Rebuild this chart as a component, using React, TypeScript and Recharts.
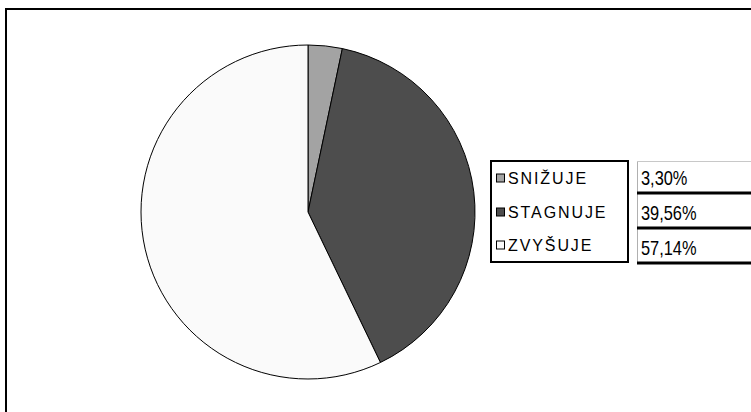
import React from "react";
import { PieChart, Pie, Cell, Customized } from "recharts";

const categories = ["SNIŽUJE", "STAGNUJE", "ZVYŠUJE"];
const values = [3.3, 39.56, 57.14];
const valueLabels = ["3,30%", "39,56%", "57,14%"];
const colors = ["#a3a3a3", "#4d4d4d", "#fafafa"];

const data = categories.map((name, i) => ({ name, value: values[i] }));

const LegendTable = () => {
  const rowCenters = [178, 212, 245];
  const rowBottoms = [193, 228, 263];
  return (
    <g>
      <rect x={491} y={161} width={137} height={101} fill="#fff" stroke="#000" strokeWidth={2} />
      {categories.map((c, i) => (
        <g key={c}>
          <rect x={496.5} y={rowCenters[i] - 4} width={8} height={8} fill={colors[i]} stroke="#000" strokeWidth={1} />
          <text
            x={508}
            y={rowCenters[i] + 6}
            fontFamily="Liberation Sans, Arial, sans-serif"
            fontSize={16}
            letterSpacing={1.9}
            fill="#000"
          >
            {c}
          </text>
        </g>
      ))}
      <line x1={637.5} y1={161} x2={637.5} y2={264} stroke="#b0b0b0" strokeWidth={1} />
      <line x1={637} y1={161.5} x2={751} y2={161.5} stroke="#c8c8c8" strokeWidth={1} />
      {valueLabels.map((v, i) => (
        <g key={v}>
          <line x1={637} y1={rowBottoms[i]} x2={751} y2={rowBottoms[i]} stroke="#000" strokeWidth={3} />
          <text
            x={641}
            y={rowBottoms[i] - 8}
            fontFamily="Liberation Sans, Arial, sans-serif"
            fontSize={20}
            fill="#000"
            transform={`translate(${641 * 0.18},0) scale(0.82,1)`}
          >
            {v}
          </text>
        </g>
      ))}
    </g>
  );
};

export default function App() {
  return (
    <div style={{ position: "absolute", left: 0, top: 0, width: 751, height: 412, background: "#fff", overflow: "hidden" }}>
      <div
        style={{
          position: "absolute",
          left: 5,
          top: 8,
          width: 900,
          height: 600,
          border: "2px solid #000",
          boxSizing: "border-box",
        }}
      />
      <div style={{ position: "absolute", left: 0, top: 0 }}>
        <PieChart width={751} height={412} margin={{ top: 0, right: 0, bottom: 0, left: 0 }}>
          <Pie
            data={data}
            dataKey="value"
            nameKey="name"
            cx={308}
            cy={212}
            outerRadius={167}
            startAngle={90}
            endAngle={-270}
            stroke="#000"
            strokeWidth={1}
            isAnimationActive={false}
          >
            {data.map((d, i) => (
              <Cell key={d.name} fill={colors[i]} />
            ))}
          </Pie>
          <Customized component={LegendTable} />
        </PieChart>
      </div>
    </div>
  );
}
